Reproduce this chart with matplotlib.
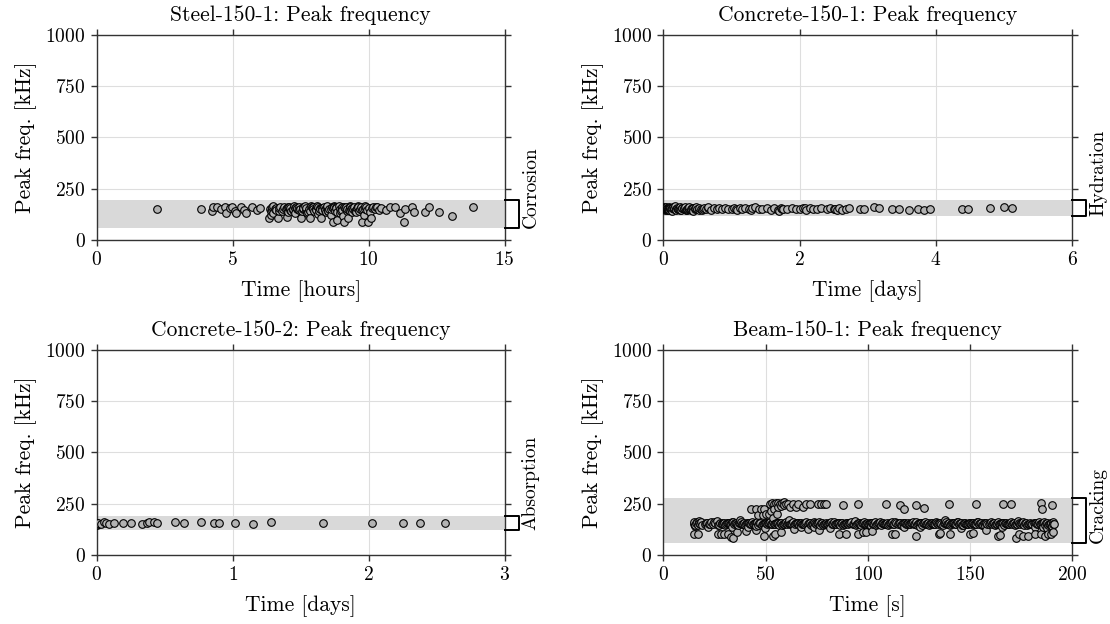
"""Peak frequency of AE hits for four test specimens (2x2 panel figure)."""

import matplotlib
matplotlib.use("Agg")
import matplotlib.pyplot as plt
import matplotlib.transforms as mtransforms
import numpy as np

plt.rcParams["font.family"] = "serif"
plt.rcParams["font.serif"] = ["cmr10", "DejaVu Serif"]
plt.rcParams["mathtext.fontset"] = "cm"
plt.rcParams["axes.formatter.use_mathtext"] = True
plt.rcParams["font.size"] = 14

# ---- Steel-150-1 (time in hours, peak frequency in kHz)
steel_time = [
    2.21, 3.85, 4.25, 4.27, 4.42, 4.57, 4.70, 4.77, 4.90, 4.97, 5.10, 5.13, 5.30, 5.43, 5.50, 5.70, 5.90, 6.00,
    6.35, 6.38, 6.40, 6.42, 6.45, 6.50, 6.55, 6.60, 6.68, 6.72,
    6.80, 6.88, 6.95, 7.00, 7.05, 7.12, 7.20, 7.25, 7.30, 7.35,
    7.42, 7.50, 7.55, 7.60, 7.66, 7.72, 7.80, 7.86, 7.92, 7.98,
    8.05, 8.10, 8.15, 8.20, 8.25, 8.30, 8.36, 8.42, 8.48, 8.55,
    8.60, 8.66, 8.70, 8.75, 8.80, 8.85, 8.90, 8.95, 9.00, 9.05,
    9.10, 9.15, 9.20, 9.24, 9.30, 9.35, 9.40, 9.45, 9.52, 9.58,
    9.65, 9.70, 9.77, 9.80, 9.83, 9.88, 9.92, 9.96, 10.00, 10.05,
    10.10, 10.15, 10.22, 10.30, 10.38, 10.45,
    7.08, 7.38, 7.68, 7.95, 8.22, 8.52, 8.78, 9.08, 9.38, 9.62,
    7.15, 7.48, 7.78, 8.08, 8.38, 8.68, 8.98, 9.28, 9.55, 9.85,
    6.48, 6.75, 7.02, 7.28, 7.58, 7.88, 8.12, 8.45, 8.72, 9.02,
    9.32, 9.60, 9.90, 10.12, 10.26,
    6.43, 6.58, 6.70, 6.85, 6.98, 7.10, 7.22, 7.33, 7.45, 7.57,
    7.70, 7.83, 7.96, 8.07, 8.18, 8.28, 8.40, 8.50, 8.63, 8.73,
    8.83, 8.93, 9.03, 9.13, 9.22, 9.33, 9.43, 9.50, 9.68, 9.75,
    10.62, 10.80, 10.95, 11.15, 11.28, 11.35, 11.60, 11.67, 12.07, 12.20, 12.60, 13.05, 13.84,
]
steel_freq = [
    150, 150, 143, 163, 163, 150, 163, 130, 154, 163, 143, 130, 159, 146, 130, 159, 146, 154,
    106, 150, 122, 140, 160, 130, 150, 145, 106, 155,
    140, 160, 150, 114, 135, 155, 145, 165, 130, 150,
    160, 106, 140, 155, 165, 130, 150, 106, 160, 140,
    150, 165, 125, 155, 106, 145, 160, 135, 165, 150,
    120, 160, 89, 140, 155, 98, 165, 130, 150, 118,
    89, 160, 140, 106, 165, 150, 135, 160, 145, 155,
    140, 160, 89, 150, 122, 165, 145, 89, 155, 135,
    106, 160, 150, 163, 145, 158,
    162, 158, 148, 162, 150, 142, 160, 163, 158, 162,
    140, 150, 138, 145, 152, 158, 142, 148, 138, 150,
    165, 162, 160, 158, 163, 165, 160, 162, 165, 160,
    162, 165, 160, 158, 162,
    148, 155, 140, 150, 158, 145, 152, 160, 145, 150,
    156, 142, 150, 158, 140, 155, 148, 142, 153, 160,
    138, 150, 145, 155, 150, 142, 150, 140, 150, 145,
    146, 160, 159, 130, 89, 150, 159, 138, 138, 159, 138, 117, 159,
]

# ---- Concrete-150-1 (time in days)
conc1_time = [
    0.00, 0.01, 0.02, 0.03, 0.04, 0.05, 0.06, 0.07, 0.08, 0.09,
    0.10, 0.12, 0.14, 0.15, 0.17, 0.19, 0.20, 0.22, 0.24, 0.26,
    0.28, 0.30, 0.32, 0.34, 0.36, 0.38, 0.40, 0.42, 0.44, 0.46,
    0.48, 0.50, 0.53, 0.56, 0.60, 0.63, 0.66, 0.70, 0.74, 0.78,
    0.82, 0.86, 0.90, 0.95, 1.00, 1.04, 1.08, 1.12, 1.16, 1.20,
    1.25, 1.30, 1.35, 1.40, 1.45, 1.52, 1.58, 1.63, 1.68, 1.72,
    1.76, 1.82, 1.88, 1.95, 2.00, 2.05, 2.10, 2.15, 2.20, 2.26,
    2.32, 2.40, 2.45, 2.50, 2.55, 2.58, 2.62, 2.68, 2.72,
    0.015, 0.045, 0.075, 0.11, 0.16, 0.21, 0.25, 0.31, 0.35, 0.41,
    0.47, 0.52, 0.58, 0.65, 1.06, 1.28, 1.70, 1.74, 2.08, 2.52,
    0.005, 0.025, 0.035, 0.055, 0.065, 0.085, 0.095, 0.13, 0.18, 0.23,
    0.27, 0.33, 0.37, 0.43, 0.55,
    2.88, 2.95, 3.09, 3.17, 3.35, 3.45, 3.60, 3.74, 3.82, 3.91, 4.38, 4.47, 4.79, 4.99, 5.12,
]
conc1_freq = [
    150, 160, 145, 155, 162, 148, 158, 152, 160, 146,
    155, 140, 160, 150, 165, 148, 158, 152, 162, 145,
    158, 150, 163, 145, 155, 160, 148, 158, 142, 152,
    160, 150, 155, 145, 158, 152, 160, 148, 155, 150,
    155, 150, 158, 152, 150, 156, 148, 155, 152, 158,
    150, 155, 160, 152, 150, 156, 148, 155, 145, 158,
    152, 150, 155, 150, 152, 155, 148, 158, 152, 150,
    155, 152, 158, 150, 146, 155, 148, 152, 158,
    155, 150, 158, 152, 155, 150, 148, 155, 152, 150,
    155, 148, 152, 155, 150, 148, 142, 150, 155, 150,
    155, 150, 158, 152, 148, 155, 150, 158, 152, 150,
    155, 148, 152, 155, 150,
    151, 151, 159, 154, 151, 150, 146, 151, 146, 151, 151, 151, 154, 159, 154,
]

# ---- Concrete-150-2 (time in days)
conc2_time = [
    0.000, 0.003, 0.006, 0.010, 0.013, 0.031, 0.052, 0.071, 0.092, 0.131,
    0.197, 0.249, 0.336, 0.367, 0.388, 0.420, 0.446, 0.577, 0.643, 0.769,
    0.861, 0.898, 1.018, 1.147, 1.281, 1.661, 2.026, 2.252, 2.378, 2.562,
]
conc2_freq = [
    151, 155, 148, 153, 156, 151, 159, 154, 151, 154,
    154, 158, 151, 156, 159, 159, 156, 159, 154, 163,
    154, 158, 156, 151, 163, 154, 158, 156, 154, 154,
]

# ---- Beam-150-1 (time in seconds)
beam_time = [
    # main band, first row
    14.8, 15.2, 15.6, 16.0, 16.5, 17.0, 17.5, 18.0, 18.5, 19.0,
    21.0, 23.0, 25.0, 27.0, 28.5, 30.0, 32.0, 34.0, 36.0, 38.0,
    40.0, 42.0, 44.0, 46.0, 48.0, 50.0, 52.0, 54.0, 56.0, 58.0,
    60.0, 62.0, 64.0, 66.0, 68.0, 70.0, 72.0, 74.0, 76.0, 78.0,
    80.0, 82.0, 84.0, 86.0, 88.0, 90.0, 92.0, 94.0, 96.0, 98.0,
    100.0, 102.0, 104.0, 106.0, 108.0, 110.0, 112.0, 114.0, 116.0, 118.0,
    120.0, 122.0, 124.0, 126.0, 128.0, 130.0, 132.0, 134.0, 136.0, 138.0,
    140.0, 142.0, 144.0, 146.0, 148.0, 150.0, 152.0, 154.0, 156.0, 158.0,
    160.0, 162.0, 164.0, 166.0, 168.0, 170.0, 172.0, 174.0, 176.0, 178.0,
    180.0, 182.0, 184.0, 186.0, 188.0, 189.5, 190.5, 191.0,
    # main band, second row
    29.0, 31.0, 33.0, 35.0, 37.0, 39.0, 41.0, 43.0, 45.0, 47.0,
    49.0, 51.0, 53.0, 55.0, 57.0, 59.0, 61.0, 63.0, 65.0, 67.0,
    69.0, 71.0, 73.0, 75.0, 77.0, 79.0, 81.0, 83.0, 85.0, 87.0,
    89.0, 91.0, 93.0, 95.0, 97.0, 99.0, 101.0, 103.0, 105.0, 107.0,
    109.0, 111.0, 113.0, 115.0, 117.0, 119.0, 121.0, 123.0, 125.0, 127.0,
    129.0, 131.0, 133.0, 135.0, 137.0, 139.0, 141.0, 143.0, 145.0, 147.0,
    149.0, 151.0, 153.0, 155.0, 157.0, 159.0, 161.0, 163.0, 165.0, 167.0,
    169.0, 171.0, 173.0, 175.0, 177.0, 179.0, 181.0, 183.0, 185.0, 187.0, 189.0,
    # main band, third row
    20.5, 21.5, 22.5, 23.5, 24.5, 25.5, 26.5, 27.5, 28.5, 29.5,
    30.5, 31.5, 32.5, 33.5, 34.5, 35.5, 36.5, 37.5, 38.5, 39.5,
    40.5, 41.5, 42.5, 43.5, 44.5, 45.5, 46.5, 47.5, 48.5, 49.5,
    50.5, 51.5, 52.5, 53.5, 54.5, 55.5, 56.5, 57.5, 58.5, 59.5,
    60.5, 61.5, 62.5, 63.5, 64.5, 65.5, 66.5, 67.5, 68.5, 69.5,
    70.5, 71.5, 72.5, 73.5, 74.5, 75.5, 76.5, 77.5, 78.5, 79.5,
    80.5, 81.5, 82.5, 83.5, 84.5, 85.5, 86.5, 87.5, 88.5, 89.5,
    90.5, 91.5, 92.5, 93.5, 94.5, 95.5, 96.5, 97.5, 98.5, 99.5,
    100.5, 101.5, 102.5, 103.5, 104.5, 105.5, 106.5, 107.5, 108.5, 109.5,
    110.5, 111.5, 112.5, 113.5, 114.5, 115.5, 116.5, 117.5, 118.5, 119.5,
    120.5, 121.5, 122.5, 123.5, 124.5, 125.5, 126.5, 127.5, 128.5, 129.5,
    130.5, 131.5, 132.5, 133.5, 134.5, 135.5, 136.5, 137.5, 138.5, 139.5,
    140.5, 141.5, 142.5, 143.5, 144.5, 145.5, 146.5, 147.5, 148.5, 149.5,
    150.5, 151.5, 152.5, 153.5, 154.5, 155.5, 156.5, 157.5, 158.5, 159.5,
    160.5, 161.5, 162.5, 163.5, 164.5, 165.5, 166.5, 167.5, 168.5, 169.5,
    170.5, 171.5, 172.5, 173.5, 174.5, 175.5, 176.5, 177.5, 178.5, 179.5,
    180.5, 181.5, 182.5, 183.5, 184.5, 185.5, 186.5, 187.5, 188.5, 189.5,
    190.5,
    # main band, loose hits just off the band
    15.5, 17.2, 22.0, 26.0, 33.5, 37.5, 41.5, 45.5, 49.5, 61.5,
    67.5, 73.5, 81.5, 93.5, 101.5, 117.5, 125.5, 137.5, 145.5, 157.5,
    165.5, 173.5, 181.5, 185.5, 187.5, 190.0,
    # upper hits (~250 kHz)
    52.0, 53.0, 54.0, 55.0, 56.0, 57.0, 58.0, 59.0, 60.0, 61.0,
    63.3, 65.7, 69.8, 71.5, 75.5, 77.2, 78.8, 79.6, 87.8, 95.1,
    109.0, 115.5, 117.9, 123.3, 127.4, 139.5, 153.0, 166.0, 170.0, 184.8,
    185.3, 190.2,
    # rising cluster
    42.9, 45.4, 47.8, 49.4, 46.2, 48.6, 50.2, 51.9, 52.7, 54.3,
    56.0, 57.6, 59.2, 61.7, 64.9, 68.2, 53.5, 55.5,
    # lower hits (~100 kHz)
    15.2, 16.8, 26.6, 28.2, 29.9, 31.5, 33.1, 33.9, 35.9, 40.5,
    45.4, 49.4, 53.5, 54.8, 57.6, 64.0, 70.6, 76.3, 86.1, 89.4,
    95.1, 97.6, 98.9, 102.0, 111.7, 113.4, 123.7, 134.7, 135.4, 140.0,
    149.8, 151.4, 157.9, 163.6, 164.4, 172.6, 173.9, 175.9, 178.3, 181.6,
    184.8, 186.5, 188.1, 189.7, 190.5,
]
beam_freq = [
    150, 160, 145, 155, 162, 148, 158, 152, 160, 146,
    155, 150, 162, 148, 158, 148, 155, 160, 150, 162,
    148, 158, 152, 160, 148, 155, 162, 150, 158, 148,
    162, 152, 148, 158, 150, 162, 148, 155, 160, 148,
    152, 162, 150, 158, 148, 155, 162, 148, 152, 160,
    150, 158, 148, 162, 152, 148, 160, 155, 148, 158,
    150, 162, 148, 155, 160, 148, 152, 158, 150, 162,
    148, 155, 160, 148, 152, 158, 150, 162, 148, 155,
    160, 148, 152, 158, 150, 162, 148, 155, 160, 148,
    152, 158, 150, 162, 148, 155, 160, 150,
    152, 156, 150, 158, 154, 152, 156, 150, 158, 154,
    152, 156, 150, 158, 154, 152, 156, 150, 158, 154,
    152, 156, 150, 158, 154, 152, 156, 150, 158, 154,
    152, 156, 150, 158, 154, 152, 156, 150, 158, 154,
    152, 156, 150, 158, 154, 152, 156, 150, 158, 154,
    152, 156, 150, 158, 154, 152, 156, 150, 158, 154,
    152, 156, 150, 158, 154, 152, 156, 150, 158, 154,
    152, 156, 150, 158, 154, 152, 156, 150, 158, 154, 152,
    149, 157, 153, 160, 151, 155, 147, 158, 152, 156,
    149, 157, 153, 160, 151, 155, 147, 158, 152, 156,
    149, 157, 153, 160, 151, 155, 147, 158, 152, 156,
    149, 157, 153, 160, 151, 155, 147, 158, 152, 156,
    149, 157, 153, 160, 151, 155, 147, 158, 152, 156,
    149, 157, 153, 160, 151, 155, 147, 158, 152, 156,
    149, 157, 153, 160, 151, 155, 147, 158, 152, 156,
    149, 157, 153, 160, 151, 155, 147, 158, 152, 156,
    149, 157, 153, 160, 151, 155, 147, 158, 152, 156,
    149, 157, 153, 160, 151, 155, 147, 158, 152, 156,
    149, 157, 153, 160, 151, 155, 147, 158, 152, 156,
    149, 157, 153, 160, 151, 155, 147, 158, 152, 156,
    149, 157, 153, 160, 151, 155, 147, 158, 152, 156,
    149, 157, 153, 160, 151, 155, 147, 158, 152, 156,
    149, 157, 153, 160, 151, 155, 147, 158, 152, 156,
    149, 157, 153, 160, 151, 155, 147, 158, 152, 156,
    149, 157, 153, 160, 151, 155, 147, 158, 152, 156,
    153,
    140, 165, 135, 168, 138, 170, 135, 140, 130, 172,
    135, 138, 132, 168, 140, 135, 138, 170, 132, 140,
    135, 168, 138, 135, 130, 140,
    250, 255, 247, 252, 256, 250, 254, 258, 250, 247,
    250, 250, 250, 247, 247, 247, 250, 247, 242, 247,
    247, 245, 225, 245, 229, 250, 250, 247, 247, 253,
    225, 242,
    225, 225, 225, 225, 193, 193, 201, 201, 217, 225,
    234, 237, 242, 234, 234, 234, 180, 200,
    103, 103, 103, 103, 100, 103, 90, 85, 110, 115,
    120, 95, 93, 100, 110, 125, 125, 123, 100, 100,
    100, 110, 110, 115, 100, 100, 95, 100, 105, 100,
    100, 108, 120, 95, 98, 85, 100, 92, 95, 100,
    100, 95, 100, 100, 110,
]

titles = [
    "Steel-150-1: Peak frequency",
    "Concrete-150-1: Peak frequency",
    "Concrete-150-2: Peak frequency",
    "Beam-150-1: Peak frequency",
]
xlabels = ["Time [hours]", "Time [days]", "Time [days]", "Time [s]"]
xlims = [15, 6, 3, 200]
xticks = [[0, 5, 10, 15], [0, 2, 4, 6], [0, 1, 2, 3], [0, 50, 100, 150, 200]]
band_low = [60, 115, 120, 60]
band_high = [195, 195, 190, 280]
band_labels = ["Corrosion", "Hydration", "Absorption", "Cracking"]
yticks = [0, 250, 500, 750, 1000]

series = [
    (steel_time, steel_freq),
    (conc1_time, conc1_freq),
    (conc2_time, conc2_freq),
    (beam_time, beam_freq),
]

# axes positions in figure fractions (left, bottom, width, height)
positions = [
    [0.0871, 0.6154, 0.3676, 0.3285],
    [0.5976, 0.6154, 0.3685, 0.3285],
    [0.0871, 0.1106, 0.3676, 0.3285],
    [0.5976, 0.1106, 0.3685, 0.3285],
]

spine_color = "#333333"

fig = plt.figure(figsize=(11.1, 6.24), dpi=100)

for i in range(4):
    ax = fig.add_axes(positions[i])
    t = np.asarray(series[i][0])
    f = np.asarray(series[i][1])
    assert len(t) == len(f)
    order = np.argsort(t, kind="stable")  # draw hits in time order, like the recording

    ax.axhspan(band_low[i], band_high[i], color="#d9d9d9", lw=0, zorder=1)
    ax.scatter(t[order], f[order], s=30, facecolor="#b3b3b3", edgecolor="black",
               linewidth=0.8, zorder=3)

    ax.set_xlim(0, xlims[i])
    ax.set_ylim(0, 1000)
    ax.set_xticks(xticks[i])
    ax.set_yticks(yticks)
    ax.set_title(titles[i], fontsize=15.5, pad=10)
    ax.set_xlabel(xlabels[i], fontsize=15.5, labelpad=8)
    ax.set_ylabel("Peak freq. [kHz]", fontsize=15.5, labelpad=6)

    ax.set_axisbelow(True)
    ax.grid(True, color="#dedede", linewidth=0.8)
    ax.tick_params(direction="out", length=4, width=1, pad=4, colors=spine_color,
                   labelcolor="black", top=True, right=True, labelsize=14)
    for spine in ax.spines.values():
        spine.set_color(spine_color)
        spine.set_linewidth(1.0)

    # bracket outside the right spine marking the frequency band
    trans = mtransforms.blended_transform_factory(ax.transAxes, ax.transData)
    ax.plot([1.0, 1.034, 1.034, 1.0], [band_high[i], band_high[i], band_low[i], band_low[i]],
            color="black", lw=1.4, transform=trans, clip_on=False, zorder=4)
    ax.text(1.063, band_low[i], band_labels[i], transform=trans, rotation=90,
            rotation_mode="anchor", ha="left", va="center", fontsize=14)

fig.savefig("out.png", dpi=100)
